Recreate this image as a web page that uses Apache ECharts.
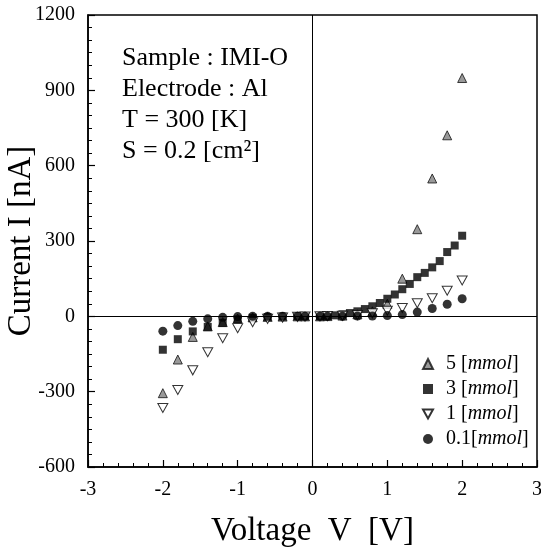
<!DOCTYPE html>
<html>
<head>
<meta charset="utf-8">
<script src="https://cdn.jsdelivr.net/npm/echarts/dist/echarts.min.js"></script>
<style>
  html, body { margin: 0; padding: 0; background: #fff; }
  #chart { width: 541px; height: 547px; }
</style>
</head>
<body>
<div id="chart"></div>
<script>
// voltage steps (V)
const vSparse = [-2, -1.8, -1.6, -1.4, -1.2, -1, -0.8, -0.6, -0.4, -0.2, -0.1,
  0.1, 0.2, 0.4, 0.6, 0.8, 1, 1.2, 1.4, 1.6, 1.8, 2];
const vDense = [-2, -1.8, -1.6, -1.4, -1.2, -1, -0.8, -0.6, -0.4, -0.2, -0.1,
  0.1, 0.2, 0.3, 0.4, 0.5, 0.6, 0.7, 0.8, 0.9, 1, 1.1, 1.2, 1.3, 1.4, 1.5, 1.6, 1.7, 1.8, 1.9, 2];

// current (nA)
const i5 = [-306, -172, -82, -40, -23, -9, -4, -2, -1, 0, 0,
  0, 1, 3, 8, 20, 50, 150, 347, 549, 721, 949];
const i3 = [-133, -91, -60, -42, -26, -12, -6, -3, -1, 0, 0,
  0, 1, 4, 8, 13, 20, 29, 40, 53, 70, 87, 108, 129, 156, 173, 195, 220, 256, 282, 321];
const i1 = [-365, -293, -215, -143, -87, -47, -23, -10, -5, -2, -1,
  0, 1, 2, 5, 12, 22, 33, 52, 72, 102, 143];
const i01 = [-59, -37, -20, -10, -4, -1, 0, 0, 0, 0, 0,
  0, 0, 0, 1, 1, 3, 7, 17, 31, 48, 70];

const names = ['5 [mmol]', '3 [mmol]', '1 [mmol]', '0.1[mmol]'];
const notes = ['Sample : IMI-O', 'Electrode : Al', 'T = 300 [K]', 'S = 0.2 [cm²]'];

const serif = 'Liberation Serif';
const pairs = (xs, ys) => xs.map((x, k) => [x, ys[k]]);

const chart = echarts.init(document.getElementById('chart'));

const axisCommon = {
  type: 'value',
  splitLine: { show: false },
  axisLine: { onZero: false, lineStyle: { color: '#000', width: 1.5 } },
  axisTick: { inside: true, length: 7, lineStyle: { color: '#000', width: 1.2 } },
  minorTick: { show: true, length: 4, lineStyle: { color: '#000', width: 1 } },
  axisLabel: { color: '#000', fontFamily: serif, fontSize: 20, margin: 13, formatter: v => String(v) },
  nameTextStyle: { color: '#000', fontFamily: serif, fontSize: 33 },
  nameLocation: 'middle'
};

const option = {
  animation: false,
  backgroundColor: '#fff',
  grid: {
    left: 88, right: 4, top: 15, bottom: 80, show: true,
    borderColor: '#000', borderWidth: 1.5,
    containLabel: false, outerBoundsMode: 'none'
  },
  xAxis: Object.assign({}, axisCommon, {
    min: -3, max: 3, interval: 1,
    name: 'Voltage  V  [V]', nameGap: 48,
    minorTick: Object.assign({}, axisCommon.minorTick, { splitNumber: 5 })
  }),
  yAxis: Object.assign({}, axisCommon, {
    min: -600, max: 1200, interval: 300,
    name: 'Current I [nA]', nameGap: 50, nameMoveOverlap: false,
    minorTick: Object.assign({}, axisCommon.minorTick, { splitNumber: 6 })
  }),
  legend: {
    orient: 'vertical',
    left: 417, top: 349,
    itemWidth: 10, itemHeight: 10, itemGap: 5,
    data: names,
    formatter: n => n.replace('mmol', '{i|mmol}'),
    textStyle: {
      color: '#000', fontFamily: serif, fontSize: 20, padding: [0, 0, 0, 8],
      rich: { i: { fontStyle: 'italic', fontFamily: serif, fontSize: 20, color: '#000' } }
    }
  },
  graphic: notes.map((t, k) => ({
    type: 'text', left: 122, top: 45 + k * 31,
    style: { text: t, fontFamily: serif, fontSize: 26, fill: '#000' }
  })),
  series: [
    {
      name: names[0], type: 'scatter', symbol: 'triangle', symbolSize: 9,
      itemStyle: { color: '#808080', borderColor: '#111', borderWidth: 1 },
      data: pairs(vSparse, i5),
      markLine: {
        silent: true, symbol: 'none', label: { show: false },
        lineStyle: { color: '#000', width: 1, type: 'solid' },
        data: [{ yAxis: 0 }, { xAxis: 0 }]
      }
    },
    {
      name: names[1], type: 'scatter', symbol: 'rect', symbolSize: 8,
      itemStyle: { color: '#000' },
      data: pairs(vDense, i3)
    },
    {
      name: names[2], type: 'scatter', symbol: 'path://M0,0 L10,0 L5,9 Z', symbolSize: [10, 9],
      itemStyle: { color: '#fff', borderColor: '#000', borderWidth: 1 },
      data: pairs(vSparse, i1)
    },
    {
      name: names[3], type: 'scatter', symbol: 'circle', symbolSize: 9,
      itemStyle: { color: '#000' },
      data: pairs(vSparse, i01)
    }
  ]
};

chart.setOption(option);
</script>
</body>
</html>
